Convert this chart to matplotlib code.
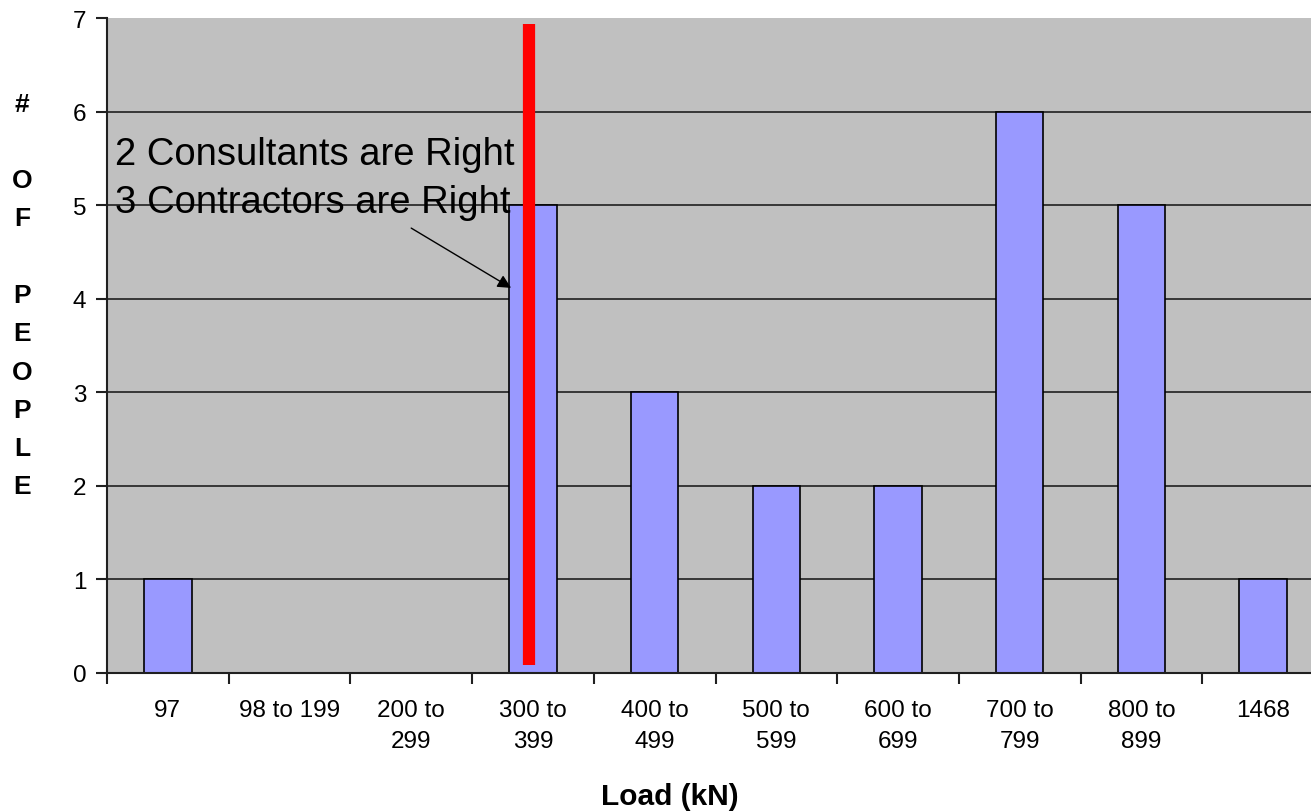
import matplotlib
matplotlib.use("Agg")
import matplotlib.pyplot as plt
import numpy as np

plt.rcParams['font.family'] = ['Liberation Sans', 'DejaVu Sans']

categories = ["97", "98 to 199", "200 to\n299", "300 to\n399", "400 to\n499",
              "500 to\n599", "600 to\n699", "700 to\n799", "800 to\n899", "1468"]
counts = [1, 0, 0, 5, 3, 2, 2, 6, 5, 1]
yticks = [0, 1, 2, 3, 4, 5, 6, 7]
marker_x = 2.97
marker_y = (0.085, 6.94)
annot_lines = ["2 Consultants are Right", "3 Contractors are Right"]

fig = plt.figure(figsize=(13.11, 8.12), dpi=100)
ax = fig.add_axes([107/1311, (812-674)/812, 1 - 107/1311, (674-19)/812])
ax.set_facecolor('#C0C0C0')

x = np.arange(len(categories))
ax.bar(x, counts, width=0.39, color='#9999FF', edgecolor='black', linewidth=1.2, zorder=3)

for yv in yticks[1:-1]:
    ax.axhline(yv, color='#202020', linewidth=1.2, zorder=1)

for s in ['top', 'right']:
    ax.spines[s].set_visible(False)
for s in ['left', 'bottom']:
    ax.spines[s].set_color('#202020')
    ax.spines[s].set_linewidth(1.5)
ax.spines['bottom'].set_zorder(4)

ax.set_yticks(yticks)
ax.set_yticklabels([str(v) for v in yticks], fontsize=17.5)
ax.tick_params(axis='y', direction='out', length=8, width=1.5, color='#202020', pad=7)

ax.set_xticks(x)
ax.set_xticklabels(categories, fontsize=17.5, linespacing=1.48)
ax.set_xticks(np.arange(-0.5, len(categories), 1.0), minor=True)
ax.tick_params(axis='x', which='major', length=0, pad=19)
ax.tick_params(axis='x', which='minor', direction='out', length=8, width=1.5, color='#202020')

ax.set_xlim(-0.5, 9.5 - 13/121.7)
ax.set_ylim(0, 7)

ax.plot([marker_x, marker_x], marker_y, color='#FF0000', linewidth=8.8, solid_capstyle='butt', zorder=5)

ax.text(-0.435, 5.55, annot_lines[0], fontsize=27.5, va='center', ha='left', zorder=6)
ax.text(-0.435, 5.03, annot_lines[1], fontsize=27.5, va='center', ha='left', zorder=6)
ax.annotate('', xy=(2.84, 4.1), xytext=(1.98, 4.77),
            arrowprops=dict(arrowstyle='-|>', color='black', lw=1, mutation_scale=20), zorder=6)

fig.text(22/1311, 1 - 296/812, "#\n\nO\nF\n\nP\nE\nO\nP\nL\nE", fontsize=19, fontweight='bold',
         ha='center', va='center', linespacing=1.75)
fig.text(670/1311, 1 - 797/812, "Load (kN)", fontsize=21.5, fontweight='bold', ha='center', va='center')

fig.savefig('out.png', dpi=100)
